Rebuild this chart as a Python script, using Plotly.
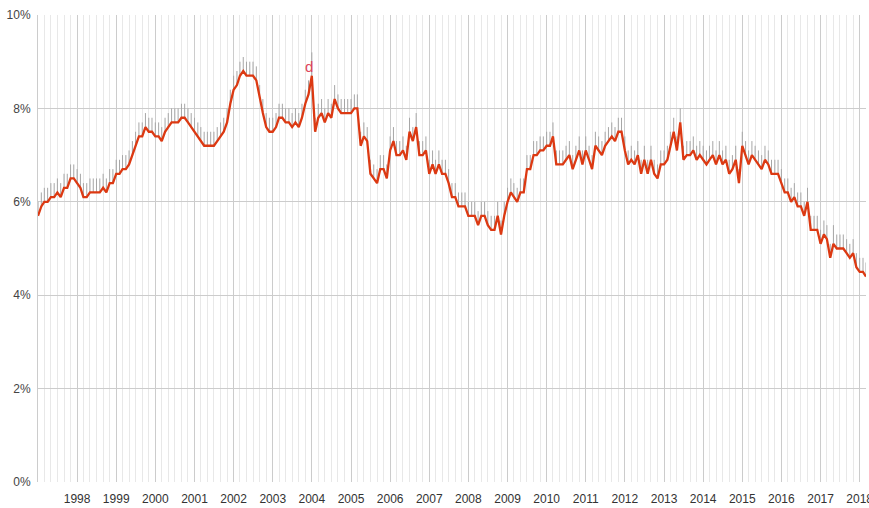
import pandas as pd
import plotly.graph_objects as go

start_month = "1997-01-01"

# monthly values (%), Jan 1997 .. Mar 2018
v1997 = [5.7, 5.9, 6.0, 6.0, 6.1, 6.1, 6.2, 6.1, 6.3, 6.3, 6.5, 6.5]
v1998 = [6.4, 6.3, 6.1, 6.1, 6.2, 6.2, 6.2, 6.2, 6.3, 6.2, 6.4, 6.4]
v1999 = [6.6, 6.6, 6.7, 6.7, 6.8, 7.0, 7.2, 7.4, 7.4, 7.6, 7.5, 7.5]
v2000 = [7.4, 7.4, 7.3, 7.5, 7.6, 7.7, 7.7, 7.7, 7.8, 7.8, 7.7, 7.6]
v2001 = [7.5, 7.4, 7.3, 7.2, 7.2, 7.2, 7.2, 7.3, 7.4, 7.5, 7.7, 8.1]
v2002 = [8.4, 8.5, 8.7, 8.8, 8.7, 8.7, 8.7, 8.6, 8.2, 7.9, 7.6, 7.5]
v2003 = [7.5, 7.6, 7.8, 7.8, 7.7, 7.7, 7.6, 7.7, 7.6, 7.8, 8.1, 8.3]
v2004 = [8.7, 7.5, 7.8, 7.9, 7.7, 7.9, 7.8, 8.2, 8.0, 7.9, 7.9, 7.9]
v2005 = [7.9, 8.0, 8.0, 7.2, 7.4, 7.3, 6.6, 6.5, 6.4, 6.7, 6.7, 6.5]
v2006 = [7.1, 7.3, 7.0, 7.0, 7.1, 6.9, 7.5, 7.3, 7.6, 7.0, 7.0, 7.1]
v2007 = [6.6, 6.8, 6.6, 6.8, 6.6, 6.6, 6.4, 6.1, 6.1, 5.9, 5.9, 5.9]
v2008 = [5.7, 5.7, 5.7, 5.5, 5.7, 5.7, 5.5, 5.4, 5.4, 5.7, 5.3, 5.7]
v2009 = [6.0, 6.2, 6.1, 6.0, 6.2, 6.2, 6.7, 6.7, 7.0, 7.0, 7.1, 7.1]
v2010 = [7.2, 7.2, 7.4, 6.8, 6.8, 6.8, 6.9, 7.0, 6.7, 6.9, 7.1, 6.8]
v2011 = [7.1, 6.9, 6.7, 7.2, 7.1, 7.0, 7.2, 7.3, 7.4, 7.3, 7.5, 7.5]
v2012 = [7.1, 6.8, 6.9, 6.8, 7.0, 6.6, 6.9, 6.6, 6.9, 6.6, 6.5, 6.8]
v2013 = [6.8, 6.9, 7.2, 7.5, 7.1, 7.7, 6.9, 7.0, 7.0, 7.1, 6.9, 7.0]
v2014 = [6.9, 6.8, 6.9, 7.0, 6.8, 7.0, 6.8, 6.9, 6.6, 6.7, 6.9, 6.4]
v2015 = [7.2, 7.0, 6.8, 7.0, 6.9, 6.8, 6.7, 6.9, 6.8, 6.6, 6.6, 6.6]
v2016 = [6.4, 6.2, 6.2, 6.0, 6.1, 5.9, 5.9, 5.7, 6.0, 5.4, 5.4, 5.4]
v2017 = [5.1, 5.3, 5.2, 4.8, 5.1, 5.0, 5.0, 5.0, 4.9, 4.8, 4.9, 4.6]
v2018 = [4.5, 4.5, 4.4]

# upper interval stick length above each value (%)
e1997 = [0.3, 0.3, 0.3, 0.3, 0.3, 0.3, 0.3, 0.3, 0.3, 0.3, 0.3, 0.3]
e1998 = [0.3, 0.3, 0.3, 0.3, 0.3, 0.3, 0.3, 0.3, 0.3, 0.3, 0.3, 0.3]
e1999 = [0.3, 0.3, 0.3, 0.3, 0.3, 0.3, 0.3, 0.3, 0.3, 0.3, 0.3, 0.3]
e2000 = [0.3, 0.3, 0.3, 0.3, 0.3, 0.3, 0.3, 0.3, 0.3, 0.3, 0.3, 0.3]
e2001 = [0.3, 0.3, 0.3, 0.3, 0.3, 0.3, 0.3, 0.3, 0.3, 0.3, 0.3, 0.3]
e2002 = [0.3, 0.3, 0.3, 0.3, 0.3, 0.3, 0.3, 0.3, 0.3, 0.3, 0.3, 0.3]
e2003 = [0.3, 0.3, 0.3, 0.3, 0.3, 0.3, 0.3, 0.3, 0.3, 0.3, 0.3, 0.3]
e2004 = [0.5, 0.3, 0.3, 0.3, 0.3, 0.3, 0.3, 0.3, 0.3, 0.3, 0.3, 0.3]
e2005 = [0.3, 0.3, 0.3, 0.3, 0.3, 0.3, 0.3, 0.3, 0.3, 0.3, 0.3, 0.3]
e2006 = [0.3, 0.3, 0.3, 0.3, 0.3, 0.3, 0.3, 0.3, 0.3, 0.3, 0.3, 0.3]
e2007 = [0.3, 0.3, 0.3, 0.3, 0.3, 0.3, 0.3, 0.3, 0.3, 0.3, 0.3, 0.3]
e2008 = [0.3, 0.3, 0.3, 0.3, 0.3, 0.3, 0.3, 0.3, 0.3, 0.3, 0.3, 0.3]
e2009 = [0.3, 0.3, 0.3, 0.3, 0.3, 0.3, 0.3, 0.3, 0.3, 0.3, 0.3, 0.3]
e2010 = [0.3, 0.3, 0.3, 0.3, 0.3, 0.3, 0.3, 0.3, 0.3, 0.3, 0.3, 0.3]
e2011 = [0.3, 0.3, 0.3, 0.3, 0.3, 0.3, 0.3, 0.3, 0.3, 0.3, 0.3, 0.3]
e2012 = [0.3, 0.3, 0.3, 0.3, 0.3, 0.3, 0.3, 0.3, 0.3, 0.3, 0.3, 0.3]
e2013 = [0.3, 0.3, 0.3, 0.3, 0.3, 0.3, 0.3, 0.3, 0.3, 0.3, 0.3, 0.3]
e2014 = [0.3, 0.3, 0.3, 0.3, 0.3, 0.3, 0.3, 0.3, 0.3, 0.3, 0.3, 0.3]
e2015 = [0.3, 0.3, 0.3, 0.3, 0.3, 0.3, 0.3, 0.3, 0.3, 0.3, 0.3, 0.3]
e2016 = [0.3, 0.3, 0.3, 0.3, 0.3, 0.3, 0.3, 0.3, 0.3, 0.3, 0.3, 0.3]
e2017 = [0.3, 0.3, 0.3, 0.3, 0.4, 0.3, 0.3, 0.3, 0.3, 0.3, 0.3, 0.3]
e2018 = [0.3, 0.3, 0.3]

# x tick labels (year starts)
year_ticks = ["1998", "1999", "2000", "2001", "2002", "2003", "2004", "2005", "2006", "2007",
              "2008", "2009", "2010", "2011", "2012", "2013", "2014", "2015", "2016", "2017", "2018"]
# y tick labels
y_ticks = [0, 2, 4, 6, 8, 10]

annotation_date = "2004-01-01"
annotation_text = "d"

values = (v1997 + v1998 + v1999 + v2000 + v2001 + v2002 + v2003 + v2004 + v2005 + v2006
          + v2007 + v2008 + v2009 + v2010 + v2011 + v2012 + v2013 + v2014 + v2015 + v2016
          + v2017 + v2018)
errors = (e1997 + e1998 + e1999 + e2000 + e2001 + e2002 + e2003 + e2004 + e2005 + e2006
          + e2007 + e2008 + e2009 + e2010 + e2011 + e2012 + e2013 + e2014 + e2015 + e2016
          + e2017 + e2018)
dates = pd.date_range(start_month, periods=len(values), freq="MS")
ann_y = values[list(dates.strftime("%Y-%m-%d")).index(annotation_date)]

FONT = "Liberation Sans, Arial, sans-serif"
LINE = "#dc3912"

fig = go.Figure()
fig.add_trace(go.Scatter(
    x=dates, y=values, mode="markers",
    marker=dict(size=1, color="rgba(0,0,0,0)"),
    error_y=dict(type="data", symmetric=False, array=errors, arrayminus=[0] * len(errors),
                 color="#a6a6a6", thickness=1, width=0),
    hoverinfo="skip", showlegend=False,
))
fig.add_trace(go.Scatter(
    x=dates, y=values, mode="lines",
    line=dict(color=LINE, width=2.3),
    showlegend=False,
))

fig.add_annotation(
    x=annotation_date, y=ann_y, text=annotation_text, showarrow=False,
    xanchor="center", yanchor="bottom", xshift=-2.5, yshift=-1,
    font=dict(family=FONT, size=15, color="#e0455a"),
)

fig.update_layout(
    width=869, height=508,
    margin=dict(l=38, r=3, t=15, b=26),
    paper_bgcolor="white", plot_bgcolor="white",
    font=dict(family=FONT, size=11, color="#444"),
    showlegend=False,
    xaxis=dict(
        type="date", range=[dates[0], dates[-1]], automargin=False,
        tickmode="array", tickvals=[f"{y}-01-01" for y in year_ticks], ticktext=year_ticks,
        showgrid=True, gridcolor="#cccccc", gridwidth=1,
        minor=dict(dtick="M2", tick0="1997-01-01", showgrid=True,
                   gridcolor="#e8e8e8", gridwidth=1),
        ticks="", zeroline=False, showline=False,
        ticklabeloverflow="allow", ticklabelstandoff=8,
        tickfont=dict(family=FONT, size=12, color="#333"),
    ),
    yaxis=dict(
        range=[0, 10], automargin=False,
        tickmode="array", tickvals=y_ticks, ticktext=[f"{t}%" for t in y_ticks],
        showgrid=True, gridcolor="#cccccc", gridwidth=1,
        zeroline=False, showline=True, linecolor="#cccccc", linewidth=1,
        ticks="", ticklabelstandoff=4,
        tickfont=dict(family=FONT, size=12, color="#444"),
    ),
)

fig.write_html(
    "out.html",
    config={"displayModeBar": False},
    post_script="document.body.style.margin='0';document.body.style.overflow='hidden';",
)
